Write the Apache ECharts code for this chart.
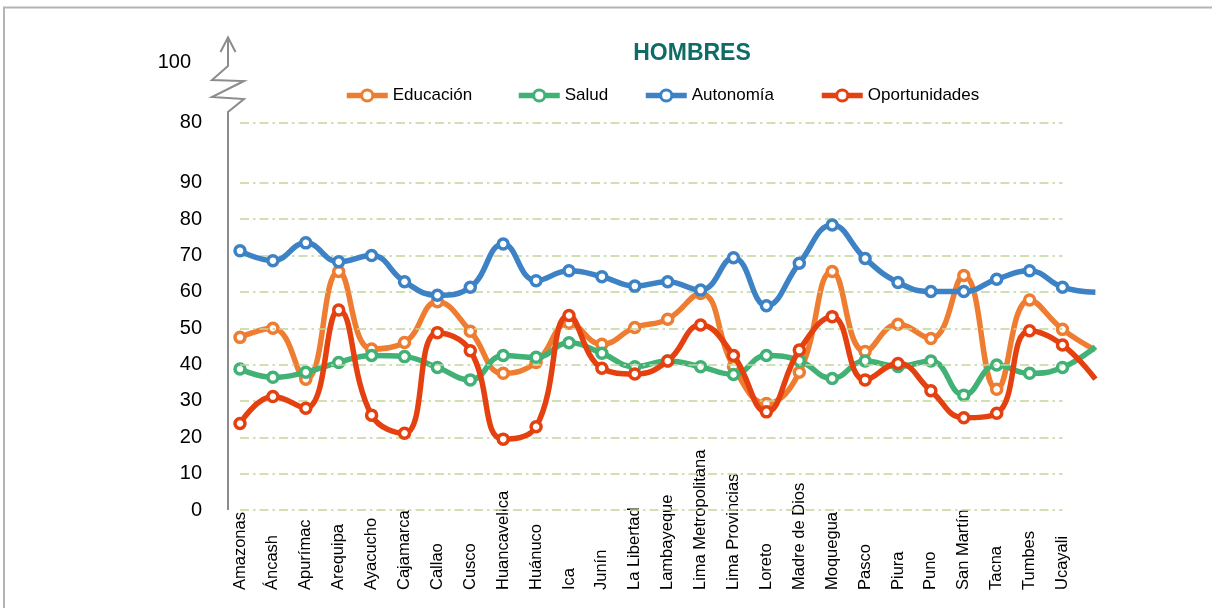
<!DOCTYPE html>
<html><head><meta charset="utf-8">
<script src="https://cdn.jsdelivr.net/npm/echarts@6/dist/echarts.min.js"></script>
<style>html,body{margin:0;padding:0;background:#fff}#c{width:1212px;height:608px}</style>
</head><body><div id="c"></div>
<script>
const categories = ['Amazonas','Áncash','Apurímac','Arequipa','Ayacucho','Cajamarca','Callao','Cusco','Huancavelica','Huánuco','Ica','Junín','La Libertad','Lambayeque','Lima Metropolitana','Lima Provincias','Loreto','Madre de Dios','Moquegua','Pasco','Piura','Puno','San Martín','Tacna','Tumbes','Ucayali',''];
const educacion = [47.5,50.0,36.0,65.6,44.3,46.1,57.3,49.2,37.6,40.6,51.4,45.6,50.2,52.5,59.6,39.5,29.3,37.9,65.6,43.6,51.1,47.2,64.5,33.2,57.8,49.7,44.0];
const salud = [38.8,36.5,37.9,40.6,42.5,42.2,39.2,35.8,42.5,42.0,46.0,43.1,39.4,41.0,39.4,37.3,42.5,41.1,36.2,41.0,39.5,41.0,31.6,39.9,37.6,39.2,44.9];
const autonomia = [71.3,68.6,73.5,68.3,70.0,62.8,59.1,61.3,73.2,63.1,65.8,64.2,61.6,62.8,60.5,69.4,56.2,67.9,78.4,69.2,62.6,60.1,60.1,63.5,65.8,61.3,59.9];
const oportunidades = [23.8,31.2,28.0,55.0,26.1,21.1,48.8,43.8,19.5,22.9,53.5,39.0,37.4,41.0,50.9,42.5,27.0,44.0,53.2,35.8,40.3,32.8,25.4,26.6,49.3,45.4,36.0];
const gridValues = [0,10,20,30,40,50,60,70,80,90,106.6];
const tickValues = [0,10,20,30,40,50,60,70,80,90,106.6,123.2];
const tickLabels = ['0','10','20','30','40','50','60','70','80','90','80','100'];
const seriesNames = ['Educación','Salud','Autonomía','Oportunidades'];
const colors = ['#EE7D31','#41B176','#3C82C5','#E5400F'];

const FONT = 'Liberation Sans, Arial, sans-serif';
const chart = echarts.init(document.getElementById('c'));
const lastIdx = categories.length - 1;

function mkSeries(name, data, color, z) {
  return {
    name, type: 'line', data, smooth: 0.45, z,
    symbol: (v, p) => p.dataIndex === lastIdx ? 'none' : 'circle',
    symbolSize: 10,
    showAllSymbol: true,
    lineStyle: { color, width: 5.5 },
    itemStyle: { color: '#fff', borderColor: color, borderWidth: 3.5 },
    emphasis: { disabled: true },
    animation: false
  };
}

const legendLefts = [344, 516, 643, 819];

chart.setOption({
  animation: false,
  textStyle: { fontFamily: FONT },
  title: {
    text: 'HOMBRES', left: 687, top: 37, textAlign: 'center',
    textStyle: { fontFamily: FONT, fontSize: 23, fontWeight: 'bold', color: '#0E6B68' }
  },
  legend: seriesNames.map((n, i) => ({
    data: [n], left: legendLefts[i], top: 87, padding: 0,
    itemWidth: 41, itemHeight: 14, itemGap: 5,
    lineStyle: { width: 5.5 },
    itemStyle: { borderWidth: 3 },
    textStyle: { fontFamily: FONT, fontSize: 17, color: '#000' },
    selectedMode: false
  })),
  grid: { left: 240, right: 116.6, top: 37.5, bottom: 98, containLabel: false },
  xAxis: {
    type: 'category', data: categories, boundaryGap: false,
    axisLine: { show: false }, axisTick: { show: false }, splitLine: { show: false },
    axisLabel: {
      interval: 0, rotate: 90, align: 'left', verticalAlign: 'middle', margin: 80,
      fontFamily: FONT, fontSize: 16.5, color: '#000'
    }
  },
  yAxis: {
    type: 'value', min: 0, max: 130,
    axisLine: { show: false }, axisTick: { show: false }, splitLine: { show: false },
    axisLabel: {
      customValues: tickValues,
      margin: 38, fontFamily: FONT, fontSize: 20, color: '#000',
      formatter: (v) => {
        const i = tickValues.findIndex(t => Math.abs(t - v) < 0.01);
        if (i < 0) return '';
        return i === tickValues.length - 1 ? '{a|' + tickLabels[i] + '}' : tickLabels[i];
      },
      rich: { a: { fontFamily: FONT, fontSize: 20, color: '#000', padding: [0, 11, 0, 0] } }
    }
  },
  series: [
    {
      name: '_grid', type: 'line', data: [], z: 1, silent: true,
      markLine: {
        silent: true, symbol: 'none', animation: false,
        label: { show: false },
        lineStyle: { color: '#C2D69A', width: 1.6, type: [9, 4, 2.5, 4] },
        emphasis: { disabled: true },
        data: gridValues.map(v => [{ coord: [categories[0], v] }, { coord: [categories[25], v] }])
      }
    },
    mkSeries(seriesNames[0], educacion, colors[0], 3),
    mkSeries(seriesNames[1], salud, colors[1], 4),
    mkSeries(seriesNames[2], autonomia, colors[2], 5),
    mkSeries(seriesNames[3], oportunidades, colors[3], 6)
  ]
});

// axis decoration (broken axis with arrow) and frame
const x0 = chart.convertToPixel({ xAxisIndex: 0 }, categories[0]) - 12;
const yBottom = chart.convertToPixel({ yAxisIndex: 0 }, 0);
const yBreak = chart.convertToPixel({ yAxisIndex: 0 }, 109.5);
const yTip = chart.convertToPixel({ yAxisIndex: 0 }, 130);
const axisPts = [
  [x0, yTip], [x0, yBreak - 46], [x0 - 16, yBreak - 32], [x0 + 16, yBreak - 31],
  [x0 - 16, yBreak - 15], [x0 + 16, yBreak - 13], [x0, yBreak], [x0, yBottom]
];
chart.setOption({
  graphic: [
    { type: 'polyline', shape: { points: axisPts }, style: { stroke: '#8C8C8C', lineWidth: 2, fill: null }, silent: true },
    { type: 'polyline', shape: { points: [[x0 - 7.5, yTip + 14.5], [x0, yTip], [x0 + 7.5, yTip + 14.5]] }, style: { stroke: '#8C8C8C', lineWidth: 2, fill: null }, silent: true },
    { type: 'polyline', shape: { points: [[4, 608], [4, 7.5], [1212, 7.5]] }, style: { stroke: '#B4B4B4', lineWidth: 2, fill: null }, silent: true }
  ]
});
</script>
</body></html>
